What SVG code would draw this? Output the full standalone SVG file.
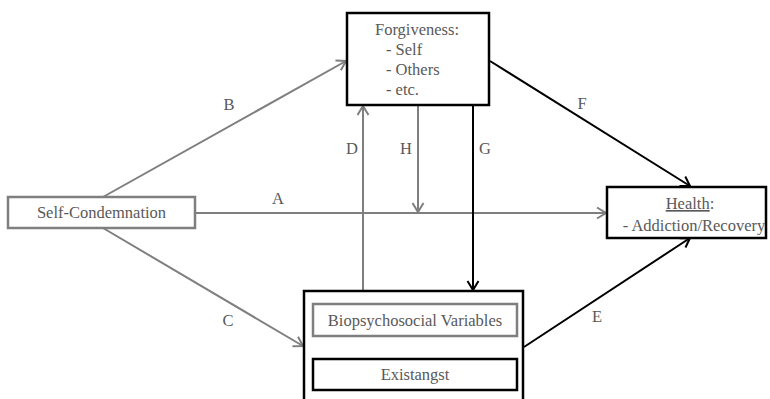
<svg xmlns="http://www.w3.org/2000/svg" width="770" height="399" viewBox="0 0 770 399" font-family="'Liberation Serif', 'Times New Roman', Times, 'DejaVu Serif', serif">
<style>
text{font-family:'Liberation Serif','Times New Roman',Times,'DejaVu Serif',serif;font-size:16.5px;fill:#595959}
.lbl{text-anchor:middle}
.box{fill:#fff;stroke:#000;stroke-width:2.5}
.gbox{fill:#fff;stroke:#7f7f7f;stroke-width:2.5}
.g{stroke:#7f7f7f;stroke-width:2;fill:none}
.k{stroke:#000;stroke-width:2;fill:none}
</style>
<defs>
<marker id="ag" markerUnits="userSpaceOnUse" markerWidth="14" markerHeight="14" refX="11" refY="7" orient="auto">
<path d="M2,1.5 L11,7 L2,12.5" fill="none" stroke="#7f7f7f" stroke-width="2"/>
</marker>
<marker id="ak" markerUnits="userSpaceOnUse" markerWidth="14" markerHeight="14" refX="11" refY="7" orient="auto">
<path d="M2,1.5 L11,7 L2,12.5" fill="none" stroke="#000" stroke-width="2"/>
</marker>
</defs>
<g id="connectors">
<line class="g" x1="195" y1="213" x2="606" y2="213" marker-end="url(#ag)"/>
<line class="g" x1="103" y1="197" x2="346" y2="61" marker-end="url(#ag)"/>
<line class="g" x1="103" y1="228" x2="303" y2="346" marker-end="url(#ag)"/>
<line class="g" x1="363" y1="291" x2="363" y2="106" marker-end="url(#ag)"/>
<line class="g" x1="418" y1="105" x2="418" y2="212" marker-end="url(#ag)"/>
<line class="k" x1="473" y1="105" x2="473" y2="290" marker-end="url(#ak)"/>
<line class="k" x1="490" y1="61" x2="690" y2="186" marker-end="url(#ak)"/>
<line class="k" x1="524" y1="347" x2="690" y2="238" marker-end="url(#ak)"/>
<text class="lbl" x="278" y="204">A</text>
<text class="lbl" x="229" y="110">B</text>
<text class="lbl" x="228" y="326">C</text>
<text class="lbl" x="352" y="154">D</text>
<text class="lbl" x="597" y="322">E</text>
<text class="lbl" x="582" y="109">F</text>
<text class="lbl" x="485" y="154">G</text>
<text class="lbl" x="406" y="154">H</text>
</g>
<g id="forgiveness">
<rect class="box" x="347" y="13" width="142" height="92"/>
<text x="375" y="35">Forgiveness:</text>
<text x="386" y="55">- Self</text>
<text x="386" y="75">- Others</text>
<text x="386" y="95">- etc.</text>
</g>
<g id="self-condemnation">
<rect class="gbox" x="8" y="197" width="187" height="31"/>
<text class="lbl" x="101.5" y="218">Self-Condemnation</text>
</g>
<g id="health">
<rect class="box" x="607" y="187" width="159" height="51"/>
<text class="lbl" x="690" y="209"><tspan text-decoration="underline">Health</tspan>:</text>
<text class="lbl" x="694" y="231">- Addiction/Recovery</text>
</g>
<g id="mediators">
<rect class="box" x="304" y="291" width="219" height="120"/>
<g id="biopsychosocial">
<rect class="gbox" x="313" y="304" width="204" height="32"/>
<text class="lbl" x="415" y="326">Biopsychosocial Variables</text>
</g>
<g id="existangst">
<rect class="box" x="313" y="359" width="204" height="31"/>
<text class="lbl" x="415" y="380">Existangst</text>
</g>
</g>
</svg>
